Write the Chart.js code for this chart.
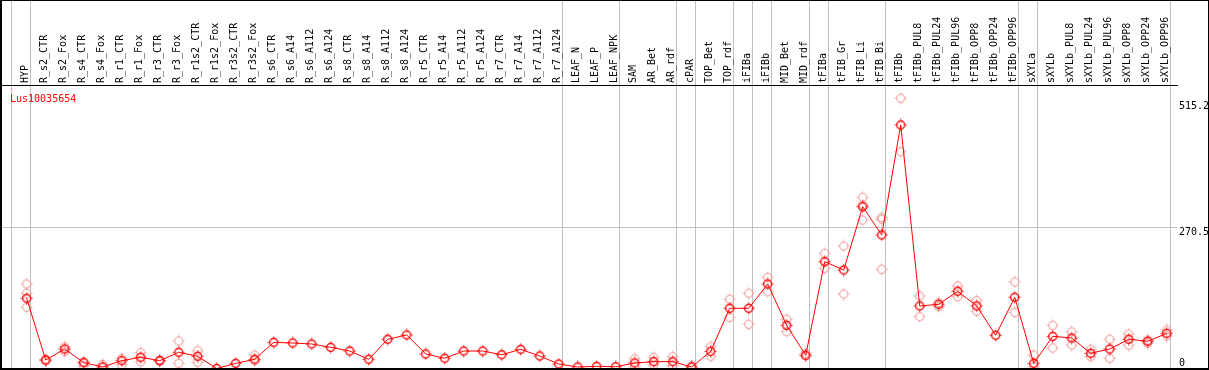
<!DOCTYPE html>
<html lang="en">
<head>
    <meta charset="UTF-8">
    <title>Lus10035654 expression</title>
    <style>
        body {
            margin: 0;
            background-color: #ffffff;
            overflow: hidden;
        }
        .wrap {
            position: relative;
            width: 1209px;
            height: 370px;
        }
        .frame {
            position: absolute;
            left: 0;
            top: 0;
            width: 1209px;
            height: 370px;
            box-sizing: border-box;
            border-style: solid;
            border-color: #000000;
            border-width: 1px 1px 2px 2px;
            pointer-events: none;
        }
    </style>
</head>
<body>
    <div class="wrap">
        <canvas id="mainChart" width="1209" height="370"></canvas>
        <div class="frame"></div>
    </div>

    <script src="https://cdn.jsdelivr.net/npm/chart.js"></script>
    <script>
        const geneName = 'Lus10035654';

        const categories = [
            'HYP',
            'R_s2_CTR', 'R_s2_Fox', 'R_s4_CTR', 'R_s4_Fox', 'R_r1_CTR', 'R_r1_Fox', 'R_r3_CTR', 'R_r3_Fox',
            'R_r1s2_CTR', 'R_r1s2_Fox', 'R_r3s2_CTR', 'R_r3s2_Fox',
            'R_s6_CTR', 'R_s6_A14', 'R_s6_A112', 'R_s6_A124', 'R_s8_CTR', 'R_s8_A14', 'R_s8_A112', 'R_s8_A124',
            'R_r5_CTR', 'R_r5_A14', 'R_r5_A112', 'R_r5_A124', 'R_r7_CTR', 'R_r7_A14', 'R_r7_A112', 'R_r7_A124',
            'LEAF_N', 'LEAF_P', 'LEAF_NPK',
            'SAM', 'AR_Bet', 'AR_rdf', 'cPAR', 'TOP_Bet', 'TOP_rdf', 'iFIBa', 'iFIBb', 'MID_Bet', 'MID_rdf',
            'tFIBa', 'tFIB_Gr', 'tFIB_Li', 'tFIB_Bi', 'tFIBb',
            'tFIBb_PUL8', 'tFIBb_PUL24', 'tFIBb_PUL96', 'tFIBb_OPP8', 'tFIBb_OPP24', 'tFIBb_OPP96',
            'sXYLa', 'sXYLb',
            'sXYLb_PUL8', 'sXYLb_PUL24', 'sXYLb_PUL96', 'sXYLb_OPP8', 'sXYLb_OPP24', 'sXYLb_OPP96'
        ];

        // mean expression per sample (red line)
        const meanValues = [
            133.7,
            13.6, 35, 8.4, 0, 12.3, 18.9, 12.3, 28.6,
            20.8, -3, 7.1, 15,
            48, 46.7, 44.8, 38.3, 31.1, 15, 53.9, 62.3,
            25.3, 16.9, 31.1, 31.1, 23.9, 34.4, 21.4, 5.8,
            0, 1.3, 0.6,
            7.8, 10.4, 10.4, 0, 30.5, 114.2, 114.2, 161.5, 81.1, 22.8,
            204.9, 188.7, 311.9, 256.9, 470.9,
            118.7, 122, 147.3, 118.7, 61.7, 135.6,
            7.1, 59.7,
            56.4, 26.7, 35, 53.9, 50, 65.6
        ];

        // individual replicates (light points), null where none shows
        const rep1 = [
            161.5,
            15, 39.5, 9.7, 5.2, 16.9, 27.9, 13.5, 50.6,
            31.8, null, null, 23.3,
            null, null, null, null, null, null, null, null,
            null, null, null, null, null, null, null, null,
            null, null, null,
            16.2, 18.9, 20.1, 2, 39.5, 131.7, 143.4, 174.5, 92.8, 26.7,
            221.2, 235.5, 330.2, 291.3, 522.9,
            138.2, 125.1, 157.6, 129, null, 165.4,
            23.3, 81.1,
            68.1, 34.4, 53.9, 64.2, 52.5, 72
        ];

        const rep2 = [
            116.2,
            12, 29.8, 2, null, 3.9, 10.3, 11, 7.1,
            9.1, null, null, 12,
            null, null, null, null, null, null, null, null,
            null, null, null, null, null, null, null, null,
            null, null, null,
            0, 3.9, 2.6, null, 20.8, 96.7, 83.1, 146.5, 68.7, 21.4,
            192.1, 142, 286, 190.1, 418.9,
            97.9, 117.3, 136.8, 108.4, null, 106.4,
            0, 37,
            42.8, 20.1, 16.9, 42.8, 46.1, 60.3
        ];

        const rep3 = [
            143.4,
            null, null, null, null, null, null, null, null,
            null, null, null, null,
            null, null, null, null, null, null, null, null,
            null, null, null, null, null, null, null, null,
            null, null, null,
            null, null, null, null, null, null, null, null, null, null,
            null, null, 315, 287.4, null,
            null, null, null, null, null, null,
            null, null,
            null, null, null, null, null, null
        ];

        const yTickValues = [0, 270.5, 515.2];

        // index of the last sample in each group (grey separators)
        const groupEnds = [-1, 0, 28, 31, 34, 35, 37, 38, 39, 41, 42, 45, 52, 53, 60];

        const colors = {
            red: '#ff0000',
            pink: '#f29b9b',
            sep: '#c0c0c0'
        };

        const monoFont = 'DejaVu Sans Mono';

        // ring marker with four short ticks
        function makeMarker(color, width) {
            const c = document.createElement('canvas');
            c.width = 13;
            c.height = 13;
            const g = c.getContext('2d');
            g.strokeStyle = color;
            g.lineWidth = width;
            g.beginPath();
            g.arc(6.5, 6.5, 4, 0, Math.PI * 2);
            g.stroke();
            g.lineWidth = 1;
            g.beginPath();
            g.moveTo(6.5, 0.5); g.lineTo(6.5, 1.8);
            g.moveTo(6.5, 11.2); g.lineTo(6.5, 12.5);
            g.moveTo(0.5, 6.5); g.lineTo(1.8, 6.5);
            g.moveTo(11.2, 6.5); g.lineTo(12.5, 6.5);
            g.stroke();
            return c;
        }

        const mainMarker = makeMarker(colors.red, 1.4);
        const repMarker = makeMarker(colors.pink, 1.1);

        const toPoints = arr => arr.map((v, i) => ({ x: i, y: v }));

        const repDataset = (arr) => ({
            data: toPoints(arr),
            showLine: false,
            pointStyle: repMarker,
            order: 2
        });

        const labelPlugin = {
            id: 'geneLabel',
            afterDraw(chart) {
                const ctx = chart.ctx;
                ctx.save();
                ctx.font = '10px "' + monoFont + '"';
                ctx.fillStyle = colors.red;
                ctx.textBaseline = 'alphabetic';
                ctx.fillText(geneName, 10, 101.5);
                ctx.restore();
            }
        };

        const isSep = v => !Number.isInteger(v);

        function noPad(scale) {
            scale.paddingLeft = 0;
            scale.paddingRight = 0;
            scale.paddingTop = 0;
            scale.paddingBottom = 0;
        }

        const config = {
            type: 'line',
            data: {
                datasets: [
                    {
                        data: toPoints(meanValues),
                        borderColor: colors.red,
                        borderWidth: 1,
                        pointStyle: mainMarker,
                        fill: false,
                        tension: 0,
                        order: 0
                    },
                    repDataset(rep1),
                    repDataset(rep2),
                    repDataset(rep3)
                ]
            },
            options: {
                responsive: false,
                animation: false,
                layout: {
                    autoPadding: false,
                    padding: { left: 2, bottom: 2, top: 0, right: 0 }
                },
                scales: {
                    x: {
                        type: 'linear',
                        position: 'top',
                        min: -1.3,
                        max: 60.54,
                        afterBuildTicks(scale) {
                            const t = categories.map((c, i) => i)
                                .concat(groupEnds.map(g => g + 0.2))
                                .sort((a, b) => a - b);
                            scale.ticks = t.map(v => ({ value: v }));
                        },
                        afterFit(scale) {
                            scale.height = 85;
                            noPad(scale);
                        },
                        grid: {
                            color: ctx => (ctx.tick && isSep(ctx.tick.value)) ? colors.sep : 'rgba(0,0,0,0)',
                            tickColor: ctx => (ctx.tick && isSep(ctx.tick.value)) ? colors.sep : 'rgba(0,0,0,0)',
                            tickLength: 85,
                            lineWidth: 1
                        },
                        border: { display: true, color: '#000000', width: 1 },
                        ticks: {
                            autoSkip: false,
                            minRotation: 90,
                            maxRotation: 90,
                            padding: -83,
                            labelOffset: 9,
                            color: '#000000',
                            font: { family: monoFont, size: 10, lineHeight: 1 },
                            callback: v => isSep(v) ? '' : categories[v]
                        }
                    },
                    y: {
                        position: 'right',
                        min: -1.95,
                        max: 548.7,
                        afterBuildTicks(scale) {
                            scale.ticks = yTickValues.map(v => ({ value: v }));
                        },
                        afterFit(scale) {
                            scale.width = 32;
                            noPad(scale);
                        },
                        grid: {
                            color: ctx => (ctx.tick && ctx.tick.value === 270.5) ? colors.sep : 'rgba(0,0,0,0)',
                            drawTicks: false
                        },
                        border: { display: false },
                        ticks: {
                            padding: 2,
                            color: '#000000',
                            font: { family: monoFont, size: 10, lineHeight: 0.8 },
                            callback: v => v === 0 ? ['0', ''] : ['', String(v)]
                        }
                    }
                },
                plugins: {
                    legend: { display: false },
                    tooltip: { enabled: false }
                }
            },
            plugins: [labelPlugin]
        };

        const ctx = document.getElementById('mainChart').getContext('2d');
        const chart = new Chart(ctx, config);
    </script>
</body>
</html>
